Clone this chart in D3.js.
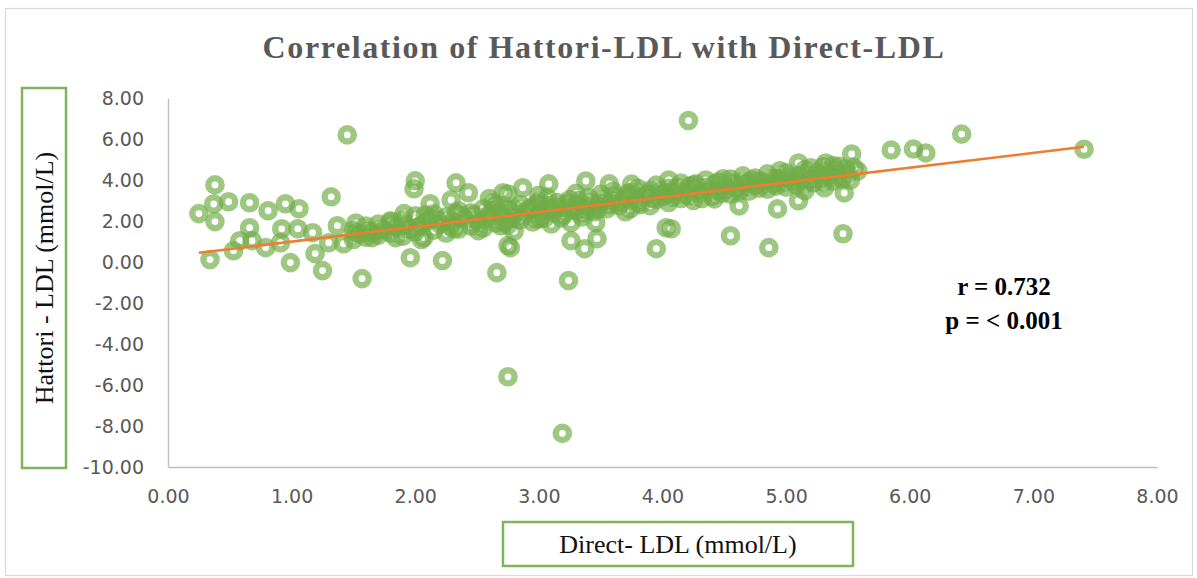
<!DOCTYPE html>
<html>
<head>
<meta charset="utf-8">
<script src="https://cdn.jsdelivr.net/npm/d3@7"></script>
<style>
  html, body { margin: 0; padding: 0; background: #ffffff; }
  svg { display: block; }
</style>
</head>
<body>
<svg id="chart" width="1197" height="578"></svg>
<script>
// ---------------- DATA ----------------
const titleText = "Correlation of Hattori-LDL with Direct-LDL";
const xAxisTitle = "Direct- LDL (mmol/L)";
const yAxisTitle = "Hattori - LDL (mmol/L)";
const annotation = ["r = 0.732", "p = < 0.001"];

const xTicks = [0, 1, 2, 3, 4, 5, 6, 7, 8];
const yTicks = [8, 6, 4, 2, 0, -2, -4, -6, -8, -10];

// [Direct-LDL, Hattori-LDL] pairs
const points = [
  // left cluster
  [0.38,3.76],[0.25,2.36],[0.37,2.83],[0.49,2.94],[0.38,1.97],[0.66,2.89],[0.81,2.50],
  [0.95,2.84],[1.06,2.60],[1.32,3.18],[0.34,0.12],[0.53,0.55],[0.66,1.67],[0.68,1.04],
  [0.79,0.70],[0.92,1.62],[0.91,0.94],[0.99,-0.03],[1.05,1.62],[1.17,1.43],[1.19,0.41],
  [1.25,-0.42],[1.30,0.94],[1.37,1.77],[1.42,0.89],[0.58,1.04],
  // middle
  [2.00,3.96],[1.99,3.57],[2.33,3.86],[2.43,3.38],[2.71,3.38],[2.63,2.89],[2.29,3.03],
  [2.12,2.84],[1.91,2.36],[1.80,2.01],[2.33,2.36],[2.12,2.11],[2.51,1.53],[2.31,1.62],
  [2.07,1.19],[1.84,1.19],[1.65,1.19],[1.52,1.43],[1.96,0.21],[2.22,0.07],[1.57,-0.81],
  [2.75,0.80],[2.66,-0.52],[2.69,1.77],
  [2.87,3.62],[3.08,3.81],[3.38,3.95],[3.57,3.81],[2.75,3.32],[2.80,2.59],[3.01,2.11],
  [3.16,2.64],[3.35,2.40],[3.47,2.74],[3.46,1.92],[3.26,1.92],[3.74,2.59],[3.88,3.32],
  [4.03,1.67],[3.47,1.14],[3.26,1.04],[3.37,0.65],[2.77,0.70],[3.24,-0.90],[3.95,0.65],
  [3.07,3.13],[2.99,2.84],
  // right
  [5.32,4.83],[5.10,4.83],[5.31,3.62],[5.15,3.47],[4.92,4.06],[4.69,3.86],[4.49,4.06],
  [4.27,3.81],[4.21,3.23],[4.04,3.32],[4.42,3.08],[4.62,2.74],[4.93,2.59],[5.10,2.99],
  [4.07,1.62],[4.55,1.28],[4.86,0.70],
  [5.85,5.46],[6.03,5.51],[6.13,5.32],[6.42,6.24],[7.41,5.50],[5.53,5.27],[5.58,4.44],
  [5.47,3.37],[5.46,1.38],[5.43,4.67],
  // far outliers
  [1.45,6.20],[4.21,6.90],[2.75,-5.60],[3.19,-8.36],
  // dense band
  [1.50,1.10],[1.50,1.55],[1.55,1.35],[1.60,1.20],[1.60,1.75],[1.65,1.45],[1.70,1.30],
  [1.70,1.85],[1.75,1.55],[1.80,1.40],[1.80,1.95],[1.85,1.70],[1.90,1.25],[1.90,2.05],
  [1.95,1.60],[2.00,1.45],[2.00,2.25],[2.05,1.80],[2.05,1.10],[2.10,2.00],[2.15,1.55],
  [2.15,2.35],[2.20,1.85],[2.25,1.40],[2.25,2.20],[2.30,1.95],[2.35,1.60],[2.35,2.50],
  [2.40,2.10],[2.45,1.75],[2.45,2.40],[2.50,2.05],[2.55,1.65],[2.55,2.60],[2.60,2.30],
  [2.65,1.90],[2.65,2.75],[2.70,2.20],[2.75,1.80],[2.75,2.55],[2.80,2.35],[2.80,1.50],
  [2.85,2.05],[2.85,2.80],[2.90,2.45],[2.95,1.95],[2.95,2.70],[3.00,2.35],[3.00,2.95],
  [3.05,2.15],[3.10,2.60],[3.10,1.85],[3.15,2.90],[3.20,2.30],[3.20,2.65],[3.25,3.05],
  [3.30,2.50],[3.30,2.80],[3.35,2.20],[3.40,2.70],[3.40,3.15],[3.45,2.45],[3.50,2.85],
  [3.50,3.30],[3.55,2.60],[3.60,3.00],[3.60,3.45],[3.65,2.75],[3.70,3.15],[3.70,2.45],
  [3.75,3.40],[3.80,2.90],[3.80,3.60],[3.85,3.20],[3.90,2.75],[3.90,3.50],[3.95,3.05],
  [3.95,3.75],[4.00,3.30],[4.05,2.90],[4.05,3.60],[4.10,3.40],[4.15,3.10],[4.15,3.85],
  [4.20,3.55],[4.25,3.00],[4.25,3.75],[4.30,3.35],[4.35,3.65],[4.35,4.00],[4.40,3.20],
  [4.45,3.50],[4.45,3.90],[4.50,3.75],[4.55,3.30],[4.55,4.05],[4.60,3.60],[4.65,3.90],
  [4.65,4.20],[4.70,3.45],[4.75,3.75],[4.75,4.10],[4.80,3.95],[4.85,3.55],[4.85,4.30],
  [4.90,3.80],[4.95,4.10],[5.00,3.65],[5.00,4.35],[5.05,3.95],[5.10,4.20],[5.15,3.80],
  [5.15,4.50],[5.20,4.05],[5.25,4.35],[5.30,3.90],[5.30,4.65],[5.35,4.20],[5.40,4.45],
  [5.45,4.05],[5.50,4.30],
  [1.52,1.90],[1.62,1.50],[1.72,1.60],[1.82,1.75],[1.92,1.80],[2.02,1.70],[2.08,2.30],
  [2.18,2.05],[2.28,1.75],[2.38,2.25],[2.48,2.30],[2.52,1.90],[2.58,2.10],[2.62,2.50],
  [2.68,2.45],[2.72,1.95],[2.78,2.15],[2.88,2.25],[2.92,2.60],[2.98,2.10],[3.02,2.55],
  [3.08,2.75],[3.12,2.40],[3.18,2.15],[3.22,2.85],[3.28,2.60],[3.32,3.00],[3.38,2.55],
  [3.42,2.90],[3.48,2.60],[3.52,3.05],[3.58,2.80],[3.62,3.20],[3.68,2.95],[3.72,3.35],
  [3.78,3.10],[3.82,2.80],[3.88,3.30],[3.92,3.10],[3.98,3.45],[4.02,3.20],[4.08,3.15],
  [4.12,3.65],[4.18,3.30],[4.22,3.70],[4.28,3.50],[4.32,3.10],[4.38,3.45],[4.42,3.80],
  [4.48,3.35],[4.52,3.55],[4.58,3.85],[4.62,3.45],[4.68,3.70],[4.72,4.00],[4.78,3.60],
  [4.82,3.80],[4.88,4.05],[4.92,3.70],[4.98,3.90],[5.02,4.15],[5.08,3.75],[5.12,4.00],
  [5.18,4.25],[5.22,3.85],[5.28,4.10],[5.32,4.40],[5.38,3.95],[5.42,4.25],[5.48,4.55],
  [5.52,4.00],[5.55,4.60],[5.38,4.70],[5.20,4.60],[4.95,4.45],[3.30,3.35],[3.00,3.25],
  [2.60,3.10],[3.75,3.80],[4.05,4.00]
];

// linear trend line end points
const trendX = [0.25, 7.41];
const trendY = [0.45, 5.62];

// ---------------- CHART ----------------
const svg = d3.select("#chart");

// outer chart border
svg.append("rect")
  .attr("x", 5.5).attr("y", 8.5).attr("width", 1187).attr("height", 567)
  .attr("fill", "#ffffff").attr("stroke", "#d9d9d9").attr("stroke-width", 1.2);

const x = d3.scaleLinear().domain([0, 8]).range([168, 1157]);
const y = d3.scaleLinear().domain([-10, 8]).range([467, 98]);

const fmt = d => d.toFixed(2);

// axes
const gx = svg.append("g").attr("transform", `translate(0,${y(-10)})`)
  .call(d3.axisBottom(x).tickValues(xTicks).tickSize(0).tickPadding(23).tickFormat(fmt));
const gy = svg.append("g").attr("transform", `translate(${x(0)},0)`)
  .call(d3.axisLeft(y).tickValues(yTicks).tickSize(0).tickPadding(24).tickFormat(fmt));

[gx, gy].forEach(g => {
  g.select(".domain").attr("stroke", "#bfbfbf").attr("stroke-width", 1.4);
  g.selectAll("text")
    .attr("fill", "#595959")
    .style("font-family", "'DejaVu Sans', sans-serif")
    .style("font-size", "19px");
});

// scatter markers
svg.append("g")
  .selectAll("circle")
  .data(points)
  .join("circle")
  .attr("cx", d => x(d[0]))
  .attr("cy", d => y(d[1]))
  .attr("r", 6.6)
  .attr("fill", "none")
  .attr("stroke", "#70ad47")
  .attr("stroke-opacity", 0.68)
  .attr("stroke-width", 6.4);

// trend line
svg.append("line")
  .attr("x1", x(trendX[0])).attr("y1", y(trendY[0]))
  .attr("x2", x(trendX[1])).attr("y2", y(trendY[1]))
  .attr("stroke", "#ed7d31").attr("stroke-width", 2.6);

// title
svg.append("text")
  .attr("x", 604).attr("y", 58)
  .attr("text-anchor", "middle")
  .attr("fill", "#595959")
  .style("font-family", "'Liberation Serif', 'Times New Roman', serif")
  .style("font-weight", "bold")
  .style("font-size", "32px")
  .style("letter-spacing", "1.6px")
  .text(titleText);

// y axis title box
svg.append("rect")
  .attr("x", 22).attr("y", 88).attr("width", 44).attr("height", 380)
  .attr("fill", "#ffffff").attr("stroke", "#7fb35c").attr("stroke-width", 2.5);
svg.append("text")
  .attr("transform", "translate(44,278) rotate(-90)")
  .attr("text-anchor", "middle")
  .attr("dominant-baseline", "central")
  .attr("fill", "#111111")
  .style("font-family", "'Liberation Serif', 'Times New Roman', serif")
  .style("font-size", "26px")
  .text(yAxisTitle);

// x axis title box
svg.append("rect")
  .attr("x", 503).attr("y", 522).attr("width", 350).attr("height", 44)
  .attr("fill", "#ffffff").attr("stroke", "#7fb35c").attr("stroke-width", 2.5);
svg.append("text")
  .attr("x", 678).attr("y", 544)
  .attr("text-anchor", "middle")
  .attr("dominant-baseline", "central")
  .attr("fill", "#111111")
  .style("font-family", "'Liberation Serif', 'Times New Roman', serif")
  .style("font-size", "26px")
  .text(xAxisTitle);

// annotation
svg.append("g").selectAll("text")
  .data(annotation)
  .join("text")
  .attr("x", 1004)
  .attr("y", (d, i) => 295 + i * 34)
  .attr("text-anchor", "middle")
  .attr("fill", "#000000")
  .style("font-family", "'Liberation Serif', 'Times New Roman', serif")
  .style("font-weight", "bold")
  .style("font-size", "25px")
  .text(d => d);
</script>
</body>
</html>
